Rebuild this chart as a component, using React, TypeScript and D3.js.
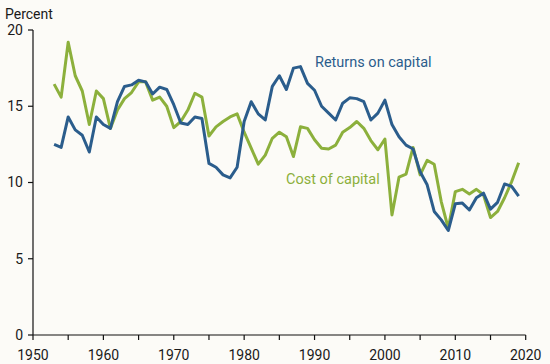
import React from "react";
import * as d3 from "d3";

const years: number[] = d3.range(1953, 2020);
const returnsOnCapital: number[] = [
  12.5, 12.3, 14.3, 13.45, 13.1, 12.0, 14.3, 13.8, 13.55, 15.3,
  16.3, 16.4, 16.7, 16.6, 15.8, 16.25, 16.1, 15.1, 13.9, 13.8,
  14.3, 14.2, 11.25, 11.0, 10.5, 10.3, 11.0, 14.0, 15.3, 14.5,
  14.1, 16.3, 17.0, 16.1, 17.5, 17.6, 16.5, 16.05, 15.0, 14.55,
  14.1, 15.2, 15.55, 15.5, 15.3, 14.1, 14.55, 15.4, 13.8, 13.0,
  12.45, 12.2, 10.7, 9.85, 8.1, 7.55, 6.85, 8.6, 8.65, 8.2,
  9.0, 9.3, 8.25, 8.7, 9.9, 9.75, 9.1,
];
const costOfCapital: number[] = [
  16.45, 15.6, 19.2, 17.0, 16.0, 13.8, 16.0, 15.5, 13.55, 14.75,
  15.5, 15.9, 16.6, 16.6, 15.4, 15.6, 15.0, 13.6, 14.0, 14.75,
  15.85, 15.6, 13.05, 13.65, 14.0, 14.3, 14.5, 13.3, 12.25, 11.2,
  11.8, 12.9, 13.3, 13.0, 11.7, 13.65, 13.55, 12.8, 12.25, 12.2,
  12.45, 13.3, 13.6, 14.0, 13.55, 12.75, 12.15, 12.85, 7.87, 10.35,
  10.55, 12.3, 10.5, 11.45, 11.2, 8.75, 7.0, 9.4, 9.55, 9.25,
  9.55, 9.2, 7.7, 8.1, 9.0, 10.05, 11.3,
];
const yTicks: number[] = [0, 5, 10, 15, 20];
const xLabelTicks: number[] = [1950, 1960, 1970, 1980, 1990, 2000, 2010, 2020];
const xMinorTicks: number[] = d3.range(1950, 2021, 5);
const seriesLabels: string[] = ["Returns on capital", "Cost of capital"];
const yAxisTitle = "Percent";

const W = 550;
const H = 364;
const BLUE = "#2b5d8c";
const GREEN = "#8cb03c";
const FONT = "Roboto, 'Noto Sans', sans-serif";

export default function App() {
  const x = d3.scaleLinear().domain([1950, 2020]).range([33, 525.7]);
  const y = d3.scaleLinear().domain([0, 20]).range([335, 30]);
  const line = d3
    .line<number>()
    .x((_, i) => x(years[i]))
    .y((d) => y(d));

  return (
    <svg
      width={W}
      height={H}
      style={{ position: "absolute", left: 0, top: 0, background: "#fcfbf7" }}
      fontFamily={FONT}
    >
      <rect x={0} y={0} width={W} height={H} fill="#fcfbf7" />
      <text x={5} y={19} fontSize={14} fill="#1a1a1a">
        {yAxisTitle}
      </text>
      {/* y axis */}
      <line x1={x(1950)} x2={x(1950)} y1={y(20)} y2={y(0)} stroke="#111" strokeWidth={1.2} />
      {yTicks.map((t) => (
        <g key={t}>
          <line x1={x(1950) - 5} x2={x(1950)} y1={y(t)} y2={y(t)} stroke="#111" strokeWidth={1.2} />
          <text
            x={x(1950) - 10}
            y={y(t)}
            dy="0.35em"
            textAnchor="end"
            fontSize={14}
            fill="#1a1a1a"
          >
            {t}
          </text>
        </g>
      ))}
      {/* x axis */}
      <line x1={x(1950)} x2={x(2020)} y1={y(0)} y2={y(0)} stroke="#111" strokeWidth={1.2} />
      {xMinorTicks.map((t) => (
        <line key={t} x1={x(t)} x2={x(t)} y1={y(0)} y2={y(0) + 5} stroke="#111" strokeWidth={1.2} />
      ))}
      {xLabelTicks.map((t) => (
        <text key={t} x={x(t)} y={360} textAnchor="middle" fontSize={14} fill="#1a1a1a">
          {t}
        </text>
      ))}
      <path d={line(costOfCapital) || ""} fill="none" stroke={GREEN} strokeWidth={3} strokeLinejoin="round" />
      <path d={line(returnsOnCapital) || ""} fill="none" stroke={BLUE} strokeWidth={3} strokeLinejoin="round" />
      <text x={315} y={67} fontSize={14.5} fill={BLUE}>
        {seriesLabels[0]}
      </text>
      <text x={286} y={183.5} fontSize={14.5} fill={GREEN}>
        {seriesLabels[1]}
      </text>
    </svg>
  );
}
